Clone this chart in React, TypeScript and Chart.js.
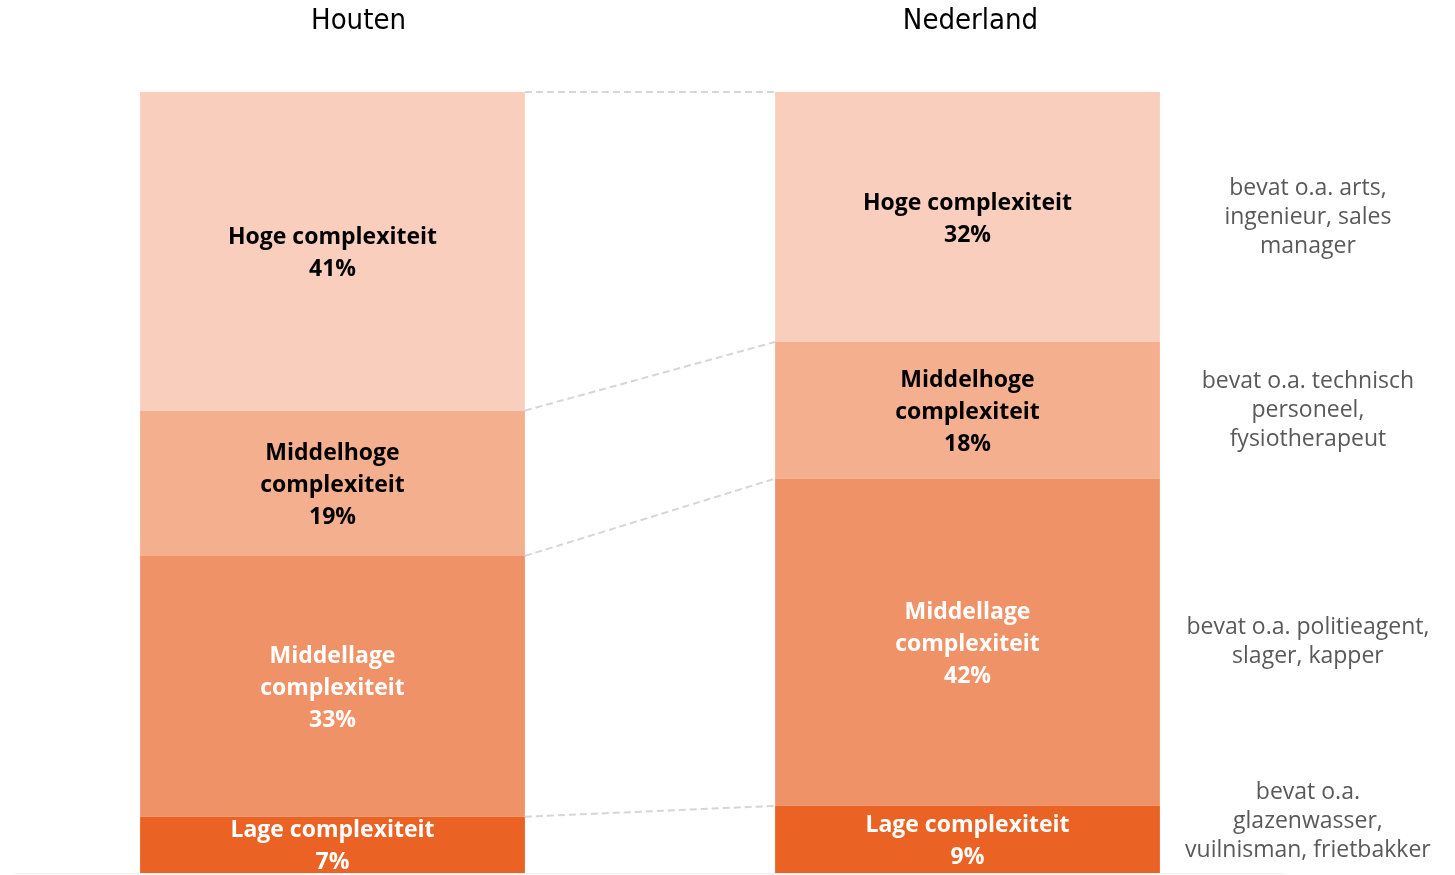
import React, { useEffect, useRef } from "react";
import { Chart, registerables } from "chart.js";

Chart.register(...registerables);

const categories = ["Houten", "Nederland"];
const seriesNames = ["Lage complexiteit", "Middellage complexiteit", "Middelhoge complexiteit", "Hoge complexiteit"];
const lage = [7.2, 8.6];
const middellage = [33.4, 41.9];
const middelhoge = [18.6, 17.5];
const hoge = [40.8, 32.0];
const seriesColors = ["#EB6225", "#F09267", "#F4AF8F", "#F9CEBC"];
const labelColors = ["#ffffff", "#ffffff", "#000000", "#000000"];
// label lines per series, per category
const labelLines = [
  [["Lage complexiteit"], ["Lage complexiteit"]],
  [["Middellage", "complexiteit"], ["Middellage", "complexiteit"]],
  [["Middelhoge", "complexiteit"], ["Middelhoge", "complexiteit"]],
  [["Hoge complexiteit"], ["Hoge complexiteit"]],
];
const annotations = [
  ["bevat o.a.", "glazenwasser,", "vuilnisman, frietbakker"],
  ["bevat o.a. politieagent,", "slager, kapper"],
  ["bevat o.a. technisch", "personeel,", "fysiotherapeut"],
  ["bevat o.a. arts,", "ingenieur, sales", "manager"],
];

const FONT = "'Open Sans', Lato, sans-serif";
const titleOffsets = [26, 3];

const overlayPlugin = {
  id: "overlay",
  afterDatasetsDraw(chart: any) {
    const ctx = chart.ctx;
    const area = chart.chartArea;
    const n = chart.data.datasets.length;
    ctx.save();
    // bottom baseline
    ctx.strokeStyle = "#efefef";
    ctx.lineWidth = 1;
    ctx.beginPath();
    ctx.moveTo(area.left, area.bottom + 0.5);
    ctx.lineTo(area.right, area.bottom + 0.5);
    ctx.stroke();

    // connectors
    ctx.strokeStyle = "#d6d6d6";
    ctx.lineWidth = 2;
    ctx.setLineDash([7, 4]);
    for (let i = 0; i < n; i++) {
      const meta = chart.getDatasetMeta(i);
      const a = meta.data[0];
      const b = meta.data[1];
      ctx.beginPath();
      ctx.moveTo(a.x + a.width / 2, a.y);
      ctx.lineTo(b.x - b.width / 2, b.y);
      ctx.stroke();
    }
    ctx.setLineDash([]);

    // segment labels
    ctx.textAlign = "center";
    ctx.textBaseline = "middle";
    ctx.font = `bold 23px ${FONT}`;
    const lh = 32;
    for (let i = 0; i < n; i++) {
      const meta = chart.getDatasetMeta(i);
      const ds = chart.data.datasets[i];
      meta.data.forEach((bar: any, j: number) => {
        const lines = [...labelLines[i][j], Math.round(ds.data[j]) + "%"];
        const cy = (bar.y + bar.base) / 2 + 2;
        ctx.fillStyle = labelColors[i];
        lines.forEach((t: string, k: number) => {
          ctx.fillText(t, bar.x, cy + (k - (lines.length - 1) / 2) * lh);
        });
      });
    }

    // category titles
    ctx.fillStyle = "#000000";
    ctx.font = `29px 'Liberation Sans Narrow', 'DejaVu Sans Condensed', sans-serif`;
    const xs = chart.scales.x;
    categories.forEach((c, j) => {
      ctx.fillText(c, xs.getPixelForValue(j) + titleOffsets[j], 21);
    });

    // annotations
    ctx.fillStyle = "#595959";
    ctx.font = `23px ${FONT}`;
    const alh = 29;
    for (let i = 0; i < n; i++) {
      const bar = chart.getDatasetMeta(i).data[1];
      const lines = annotations[i];
      let cy = (bar.y + bar.base) / 2;
      cy = Math.min(cy, area.bottom - ((lines.length - 1) / 2) * alh - 23);
      const ax = bar.x + bar.width / 2 + 148;
      lines.forEach((t: string, k: number) => {
        ctx.fillText(t, ax, cy + (k - (lines.length - 1) / 2) * alh);
      });
    }
    ctx.restore();
  },
};

export default function App() {
  const ref = useRef<HTMLCanvasElement | null>(null);
  useEffect(() => {
    if (!ref.current) return;
    const values = [lage, middellage, middelhoge, hoge];
    const chart = new Chart(ref.current, {
      type: "bar",
      data: {
        labels: categories,
        datasets: seriesNames.map((name, i) => ({
          label: name,
          data: values[i],
          backgroundColor: seriesColors[i],
          borderWidth: 0,
          categoryPercentage: 1,
          barPercentage: 0.606,
        })),
      },
      options: {
        animation: false,
        responsive: true,
        maintainAspectRatio: false,
        layout: { padding: { left: 15, right: 170, top: 92, bottom: 2 } },
        plugins: { legend: { display: false }, tooltip: { enabled: false } },
        scales: {
          x: { stacked: true, display: false },
          y: { stacked: true, display: false, min: 0, max: 100 },
        },
      },
      plugins: [overlayPlugin],
    });
    return () => chart.destroy();
  }, []);
  return (
    <div style={{ position: "absolute", left: 0, top: 0, width: 1455, height: 875, background: "#fff" }}>
      <canvas ref={ref} />
    </div>
  );
}
